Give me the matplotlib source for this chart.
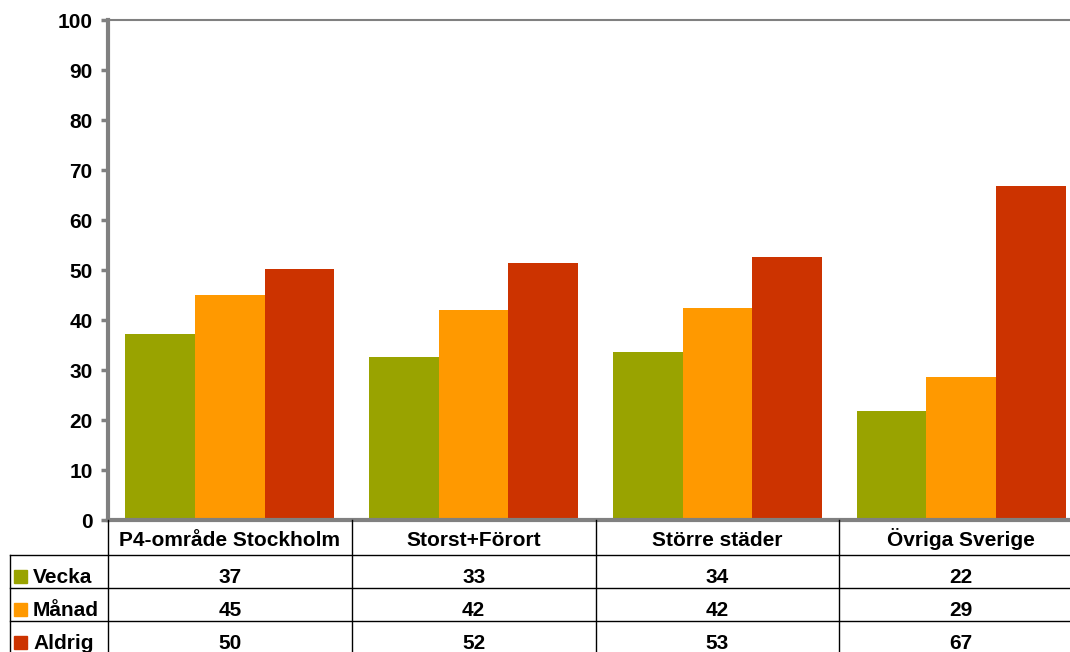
import matplotlib.pyplot as plt
from matplotlib.lines import Line2D
from matplotlib.patches import Rectangle
import numpy as np

plt.rcParams['font.family'] = ['Liberation Sans', 'DejaVu Sans']
plt.rcParams['font.weight'] = 'bold'

categories = ["P4-område Stockholm", "Storst+Förort", "Större städer", "Övriga Sverige"]
series = ["Vecka", "Månad", "Aldrig"]
vecka = [37.2, 32.6, 33.6, 21.8]
manad = [45.0, 42.0, 42.4, 28.6]
aldrig = [50.2, 51.5, 52.6, 66.8]
colors = ["#99A300", "#FF9900", "#CC3300"]

W, H = 1070, 652
fig = plt.figure(figsize=(W / 100, H / 100), dpi=100)
# axes in pixel terms: left 108, top 20, bottom 520, right beyond the figure edge
ax = fig.add_axes([108 / W, (H - 520) / H, (1083 - 108) / W, 500 / H])

x = np.arange(len(categories))
bw = 1 / 3.5
for i, (vals, c) in enumerate(zip([vecka, manad, aldrig], colors)):
    ax.bar(x + (i - 1) * bw, vals, bw, color=c, zorder=2)

ax.set_xlim(-0.5, 3.5)
ax.set_ylim(0, 100)
ax.set_yticks(range(0, 101, 10))
ax.tick_params(axis='y', length=5, width=2.5, color='#808080', labelsize=15, pad=6)
ax.tick_params(axis='x', length=0, labelbottom=False)
for lab in ax.get_yticklabels():
    lab.set_fontweight('bold')
ax.spines['left'].set_color('#808080')
ax.spines['left'].set_linewidth(3)
ax.spines['bottom'].set_color('#808080')
ax.spines['bottom'].set_linewidth(3)
ax.spines['top'].set_color('#808080')
ax.spines['top'].set_linewidth(1.5)
ax.spines['right'].set_visible(False)


def fy(py):
    return (H - py) / H


def fx(px):
    return px / W


# data table below the plot
table_lines = [
    ([108, 108], [520, H]),
    ([10, 10], [555, H]),
    ([10, 1070], [555, 555]),
    ([10, 1070], [588, 588]),
    ([10, 1070], [621, 621]),
]
for xs, ys in table_lines:
    fig.add_artist(Line2D([fx(v) for v in xs], [fy(v) for v in ys], color='black', lw=1))

to_fig = ax.transData + fig.transFigure.inverted()
for b in x[:-1] + 0.5:
    bx = to_fig.transform((b, 0))[0]
    fig.add_artist(Line2D([bx, bx], [fy(520), 0], color='black', lw=1))

row_base = [583, 616, 649]
for i, cat in enumerate(categories):
    cx = to_fig.transform((x[i], 0))[0]
    fig.text(cx, fy(546), cat, ha='center', va='baseline', fontsize=15, fontweight='bold')
    for vals, rb in zip([vecka, manad, aldrig], row_base):
        fig.text(cx, fy(rb), f"{round(vals[i])}", ha='center', va='baseline',
                 fontsize=15, fontweight='bold')

for name, c, rb in zip(series, colors, row_base):
    fig.add_artist(Rectangle((fx(14), fy(rb)), 13 / W, 13 / H, color=c,
                             transform=fig.transFigure))
    fig.text(fx(33), fy(rb), name, ha='left', va='baseline', fontsize=15, fontweight='bold')

fig.savefig("out.png", dpi=100)
